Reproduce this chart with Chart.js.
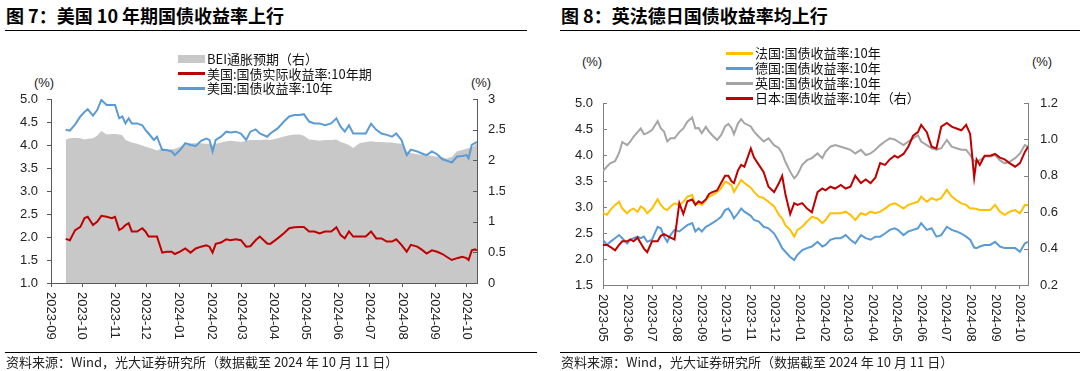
<!DOCTYPE html>
<html>
<head>
<meta charset="utf-8">
<script src="https://cdn.jsdelivr.net/npm/chart.js@4.4.1/dist/chart.umd.min.js"></script>
<style>
  body { margin: 0; background: #fff; font-family: "Noto Sans CJK SC", "Noto Sans", sans-serif; color: #000; }
  #wrap { position: relative; width: 1080px; height: 371px; overflow: hidden; background: #fff; }
  .titulo { position: absolute; top: 5px; font-size: 18px; font-weight: 700; line-height: 20px; white-space: nowrap; }
  .raya { position: absolute; height: 0; border-top: 1px solid #000; }
  .fuente { position: absolute; top: 354px; font-size: 13px; line-height: 16px; white-space: nowrap; color: #222; }
  .unidad { position: absolute; font-family: "Liberation Sans", sans-serif; font-size: 13px; line-height: 14px; transform: translateX(-50%); color: #222; }
  .ley { position: absolute; font-size: 13px; line-height: 16px; white-space: nowrap; color: #111; }
  .sim { position: absolute; }
  canvas { position: absolute; }
</style>
</head>
<body>
<div id="wrap">
  <div class="titulo" style="left:6px">图 7：美国 10 年期国债收益率上行</div>
  <div class="raya" style="left:5px;width:522px;top:30px"></div>
  <div class="titulo" style="left:561px">图 8：英法德日国债收益率均上行</div>
  <div class="raya" style="left:560px;width:520px;top:30px"></div>

  <div class="unidad" style="left:44px;top:76px">(%)</div>
  <div class="unidad" style="left:481px;top:76px">(%)</div>
  <div class="unidad" style="left:592px;top:55px">(%)</div>
  <div class="unidad" style="left:1042px;top:55px">(%)</div>

  <canvas id="graficoUS" width="505" height="270" style="left:0;top:90px;width:505px;height:270px"></canvas>
  <canvas id="graficoEU" width="522" height="270" style="left:540px;top:90px;width:522px;height:270px"></canvas>

  <div class="raya" style="left:5px;width:532px;top:352px"></div>
  <div class="raya" style="left:560px;width:520px;top:352px"></div>
  <div class="fuente" style="left:6px">资料来源：Wind，光大证券研究所（数据截至 2024 年 10 月 11 日）</div>
  <div class="fuente" style="left:561px">资料来源：Wind，光大证券研究所（数据截至 2024 年 10 月 11 日）</div>
</div>
<script>
// ---- DATOS: grafico 7 (EEUU) ----
var mesesUS = ['2023-09','2023-10','2023-11','2023-12','2024-01','2024-02','2024-03','2024-04','2024-05','2024-06','2024-07','2024-08','2024-09','2024-10'];
var fechasUS = ['2023-09-15','2023-09-19','2023-09-24','2023-09-29','2023-10-03','2023-10-06','2023-10-11','2023-10-15','2023-10-19','2023-10-24',
  '2023-10-29','2023-11-01','2023-11-05','2023-11-08','2023-11-11','2023-11-14','2023-11-17','2023-11-22','2023-11-27','2023-11-30',
  '2023-12-03','2023-12-08','2023-12-11','2023-12-16','2023-12-20','2023-12-25','2023-12-28','2024-01-02','2024-01-07','2024-01-12',
  '2024-01-17','2024-01-22','2024-01-27','2024-01-30','2024-02-02','2024-02-05','2024-02-10','2024-02-15','2024-02-19','2024-02-24',
  '2024-02-29','2024-03-05','2024-03-09','2024-03-14','2024-03-18','2024-03-25',
  '2024-03-28','2024-04-04','2024-04-10','2024-04-15','2024-04-20','2024-04-25','2024-04-29','2024-05-04','2024-05-09','2024-05-14',
  '2024-05-19','2024-05-25','2024-05-30','2024-06-03','2024-06-07','2024-06-11','2024-06-15','2024-06-21','2024-06-27','2024-07-02',
  '2024-07-07','2024-07-12','2024-07-17','2024-07-22','2024-07-26','2024-07-31','2024-08-05','2024-08-09','2024-08-15','2024-08-19',
  '2024-08-24','2024-08-29','2024-09-03','2024-09-08','2024-09-12','2024-09-17','2024-09-22','2024-09-27','2024-10-01','2024-10-03',
  '2024-10-06','2024-10-09','2024-10-11'];
var nominalUS = [4.33,4.31,4.45,4.62,4.72,4.78,4.64,4.76,4.98,4.87, 4.87,4.87,4.58,4.62,4.47,4.58,4.47,4.47,4.43,4.33,
  4.25,4.11,4.18,3.89,3.89,3.86,3.78,3.89,4.04,4.00, 3.98,4.09,4.14,4.11,3.86,4.11,4.18,4.29,4.27,4.29,
  4.25,4.11,4.29,4.34,4.25,4.18,
  4.25,4.36,4.51,4.62,4.65,4.65,4.67,4.51,4.47,4.47, 4.43,4.47,4.58,4.40,4.29,4.43,4.25,4.25,4.25,4.46,
  4.33,4.25,4.22,4.18,4.25,4.11,3.78,3.90,3.86,3.82, 3.78,3.86,3.80,3.69,3.66,3.62,3.75,3.76,3.78,3.71,
  4.00,4.04,4.07];
var realUS = [1.96,1.93,2.15,2.22,2.41,2.44,2.26,2.33,2.46,2.44, 2.41,2.44,2.15,2.19,2.26,2.30,2.12,2.12,2.19,2.12,
  2.01,2.01,2.01,1.66,1.68,1.68,1.63,1.68,1.75,1.66, 1.75,1.79,1.82,1.79,1.66,1.85,1.88,1.95,1.93,1.95,
  1.93,1.79,1.80,1.93,2.01,1.86,
  1.85,1.97,2.08,2.19,2.21,2.22,2.22,2.12,2.12,2.08, 2.12,2.12,2.21,2.04,1.97,2.12,2.01,2.01,2.01,2.12,
  1.97,1.97,1.90,1.90,1.95,1.83,1.68,1.83,1.79,1.73, 1.64,1.71,1.68,1.63,1.57,1.50,1.54,1.57,1.54,1.50,
  1.71,1.73,1.71];
var beiUS = [2.34,2.36,2.37,2.36,2.34,2.35,2.36,2.40,2.48,2.42, 2.43,2.43,2.42,2.41,2.33,2.31,2.29,2.27,2.24,2.22,
  2.21,2.18,2.16,2.20,2.18,2.18,2.19,2.22,2.27,2.28, 2.28,2.28,2.27,2.27,2.25,2.27,2.29,2.31,2.32,2.31,
  2.30,2.32,2.33,2.33,2.33,2.34,
  2.33,2.36,2.39,2.41,2.42,2.42,2.40,2.34,2.33,2.32, 2.33,2.33,2.34,2.30,2.28,2.25,2.20,2.28,2.30,2.31,
  2.30,2.30,2.29,2.29,2.28,2.27,2.15,2.12,2.10,2.09, 2.09,2.07,2.06,2.05,2.03,2.06,2.15,2.17,2.19,2.20,
  2.21,2.25,2.28];

// ---- DATOS: grafico 8 (Europa y Japon) ----
var mesesEU = ['2023-05','2023-06','2023-07','2023-08','2023-09','2023-10','2023-11','2023-12','2024-01','2024-02','2024-03','2024-04','2024-05','2024-06','2024-07','2024-08','2024-09','2024-10'];
var fechasEU = ['2023-05-01','2023-05-06','2023-05-10','2023-05-16','2023-05-21','2023-05-25','2023-05-31','2023-06-04','2023-06-08','2023-06-13',
  '2023-06-17','2023-06-21','2023-06-25','2023-07-01','2023-07-08','2023-07-12','2023-07-16','2023-07-20','2023-07-24','2023-07-29',
  '2023-08-04','2023-08-09','2023-08-14','2023-08-20','2023-08-24','2023-08-28','2023-09-01','2023-09-06','2023-09-10','2023-09-14',
  '2023-09-20','2023-09-25','2023-09-30','2023-10-04','2023-10-08','2023-10-11','2023-10-16','2023-10-20',
  '2023-10-24','2023-11-01','2023-11-05','2023-11-11','2023-11-17','2023-11-23','2023-11-30','2023-12-06','2023-12-10','2023-12-14',
  '2023-12-20','2023-12-25','2023-12-29','2024-01-04','2024-01-10','2024-01-16','2024-01-23','2024-01-29','2024-02-02','2024-02-08',
  '2024-02-14','2024-02-21','2024-02-27','2024-03-04','2024-03-10','2024-03-17','2024-03-23','2024-03-29','2024-04-04','2024-04-10',
  '2024-04-16','2024-04-22','2024-04-28','2024-05-02','2024-05-09','2024-05-15','2024-05-21','2024-05-27','2024-05-31','2024-06-07',
  '2024-06-13','2024-06-19','2024-06-25','2024-07-02','2024-07-08','2024-07-14','2024-07-20','2024-07-26','2024-07-31','2024-08-05',
  '2024-08-08','2024-08-12','2024-08-18','2024-08-25','2024-08-31','2024-09-06','2024-09-12','2024-09-18','2024-09-25','2024-10-01',
  '2024-10-07','2024-10-11'];
var francia = [2.88,2.85,2.94,3.04,3.10,2.97,2.88,2.94,2.97,2.91, 3.01,2.97,2.88,2.97,3.15,3.04,2.97,2.94,3.01,3.07,
  3.04,3.10,3.20,3.23,3.04,3.07,3.04,3.13,3.20,3.23, 3.29,3.36,3.49,3.46,3.42,3.29,3.42,3.52,
  3.46,3.37,3.29,3.20,3.17,3.10,3.01,2.85,2.78,2.65, 2.56,2.43,2.56,2.62,2.72,2.81,2.78,2.69,2.75,2.88,
  2.88,2.88,2.91,2.85,2.75,2.88,2.85,2.91,2.88,2.91,
  2.97,3.04,3.07,3.04,2.97,3.04,3.07,3.10,3.20,3.10, 3.17,3.13,3.17,3.33,3.20,3.13,3.07,3.04,2.97,2.97,
  2.96,2.94,2.94,2.94,3.04,2.91,2.85,2.91,2.94,2.88, 3.04,3.04];
var alemania = [2.37,2.27,2.33,2.40,2.46,2.40,2.30,2.37,2.40,2.43, 2.40,2.43,2.33,2.37,2.62,2.59,2.43,2.33,2.46,2.56,
  2.53,2.59,2.65,2.69,2.53,2.59,2.53,2.62,2.65,2.69, 2.75,2.81,2.94,2.97,2.88,2.78,2.88,2.97,
  2.91,2.83,2.75,2.72,2.62,2.59,2.49,2.33,2.21,2.14, 2.04,1.98,2.08,2.17,2.21,2.24,2.33,2.24,2.27,2.37,
  2.40,2.40,2.46,2.37,2.30,2.46,2.40,2.37,2.43,2.43,
  2.49,2.56,2.59,2.56,2.46,2.53,2.56,2.59,2.69,2.56, 2.59,2.43,2.46,2.62,2.56,2.53,2.49,2.43,2.37,2.22,
  2.21,2.24,2.27,2.27,2.33,2.24,2.21,2.21,2.21,2.14, 2.30,2.33];
var reinoUnido = [3.69,3.78,3.84,3.88,4.04,4.25,4.19,4.26,4.35,4.44, 4.51,4.40,4.42,4.48,4.65,4.51,4.45,4.26,4.32,4.32,
  4.44,4.51,4.64,4.72,4.51,4.52,4.42,4.54,4.45,4.38, 4.29,4.38,4.55,4.60,4.52,4.40,4.61,4.69,
  4.61,4.55,4.45,4.35,4.26,4.32,4.19,4.13,4.03,3.87, 3.68,3.55,3.62,3.81,3.90,3.94,4.03,3.94,4.06,4.16,
  4.19,4.16,4.13,4.10,4.03,4.10,4.00,4.03,4.10,4.19,
  4.26,4.32,4.30,4.26,4.19,4.26,4.32,4.38,4.26,4.19, 4.13,4.10,4.13,4.29,4.16,4.13,4.10,4.10,4.00,3.88,
  3.88,3.90,3.97,3.97,4.00,3.90,3.84,3.87,3.94,4.03, 4.19,4.16];
var japon = [0.42,0.42,0.41,0.39,0.42,0.44,0.44,0.45,0.44,0.46, 0.43,0.40,0.38,0.44,0.44,0.47,0.48,0.47,0.46,0.45,
  0.65,0.59,0.66,0.67,0.64,0.66,0.65,0.67,0.70,0.71, 0.72,0.76,0.80,0.80,0.77,0.76,0.83,0.86,
  0.85,0.95,0.90,0.86,0.82,0.74,0.71,0.76,0.80,0.70, 0.59,0.65,0.64,0.65,0.62,0.60,0.71,0.73,0.72,0.74,
  0.73,0.75,0.73,0.74,0.80,0.76,0.78,0.76,0.79,0.87,
  0.86,0.89,0.91,0.90,0.92,0.96,1.02,1.04,1.08,1.04, 0.96,0.95,1.07,1.09,1.07,1.06,1.05,1.08,1.03,0.79,
  0.89,0.86,0.91,0.91,0.92,0.90,0.89,0.87,0.85,0.87, 0.93,0.96];

// ---- HELPERS ----
function dia(s) {
  var p = s.split('-');
  return Date.UTC(+p[0], +p[1] - 1, +(p[2] || 1)) / 86400000;
}
function serie(fechas, valores) {
  return fechas.map(function (f, i) { return {x: dia(f), y: valores[i]}; });
}
var FUENTE = '"Liberation Sans", sans-serif';

// etiquetas del eje x giradas (de arriba a abajo) y marcas hacia dentro
var ejes = {
  id: 'ejes',
  afterDraw: function (chart, args, opts) {
    var ctx = chart.ctx, sx = chart.scales.x;
    ctx.save();
    ctx.font = '13px ' + FUENTE;
    ctx.fillStyle = '#222';
    ctx.textAlign = 'left';
    ctx.textBaseline = 'middle';
    sx.ticks.forEach(function (t, i) {
      ctx.save();
      ctx.translate(Math.round(sx.getPixelForValue(t.value)), sx.top + 9);
      ctx.rotate(Math.PI / 2);
      ctx.fillText(opts.labels[i], 0, 0);
      ctx.restore();
    });
    ctx.strokeStyle = opts.color;
    ctx.lineWidth = 1;
    opts.inner.forEach(function (id) {
      var s = chart.scales[id];
      var x0 = s.position === 'left' ? s.right : s.left;
      var dir = s.position === 'left' ? 1 : -1;
      s.ticks.forEach(function (t) {
        var y = Math.round(s.getPixelForValue(t.value)) + 0.5;
        ctx.beginPath();
        ctx.moveTo(x0, y);
        ctx.lineTo(x0 + dir * 4, y);
        ctx.stroke();
      });
    });
    ctx.restore();
  }
};

function escalaY(pos, min, max, paso, ancho, pad, color, fuera, dec) {
  return {
    type: 'linear', position: pos, min: min, max: max,
    afterFit: function (s) {
      s.width = ancho;
      // que la etiqueta superior no empuje el area del grafico
      s.paddingTop = 0;
      s.paddingBottom = 0;
    },
    border: {display: true, color: color},
    grid: {drawOnChartArea: false, drawTicks: fuera, tickLength: 4, color: color},
    ticks: {stepSize: paso, padding: pad, color: '#222', font: {family: FUENTE, size: 13},
      callback: function (v) { return dec ? v.toFixed(1) : String(Math.round(v * 10) / 10); }}
  };
}
function escalaX(meses, desde, hasta, color) {
  return {
    type: 'linear', min: dia(desde), max: dia(hasta),
    afterFit: function (s) { s.height = 60; },
    afterBuildTicks: function (s) {
      s.ticks = meses.map(function (m) { return {value: dia(m)}; });
    },
    border: {display: true, color: color},
    grid: {drawOnChartArea: false, tickLength: 4, color: color},
    ticks: {display: false}
  };
}

// leyenda en html a partir de los datasets
function leyenda(chart, x, y0, paso) {
  var wrap = document.getElementById('wrap');
  chart.data.datasets.forEach(function (ds, i) {
    var y = y0 + i * paso;
    var s = document.createElement('div');
    s.className = 'sim';
    var h = ds.fill ? 8 : 3;
    s.style.cssText = 'left:' + x + 'px;top:' + (y - h / 2) + 'px;width:27px;height:' + h + 'px;background:' +
      (ds.fill ? ds.backgroundColor : ds.borderColor);
    wrap.appendChild(s);
    var t = document.createElement('div');
    t.className = 'ley';
    t.style.left = (x + 29) + 'px';
    t.style.top = (y - 8) + 'px';
    t.textContent = ds.label;
    wrap.appendChild(t);
  });
}

// ---- GRAFICO 7 ----
var ejeUS = '#595959';
var graficoUS = new Chart(document.getElementById('graficoUS'), {
  type: 'line',
  data: {
    datasets: [
      {label: 'BEI通胀预期（右）', data: serie(fechasUS, beiUS), yAxisID: 'y1', fill: 'start',
        backgroundColor: '#C8C8C8', borderColor: '#C8C8C8', borderWidth: 0, pointRadius: 0, order: 3},
      {label: '美国:国债实际收益率:10年期', data: serie(fechasUS, realUS), yAxisID: 'y',
        borderColor: '#C00000', borderWidth: 2, pointRadius: 0, order: 2},
      {label: '美国:国债收益率:10年', data: serie(fechasUS, nominalUS), yAxisID: 'y',
        borderColor: '#5B9BD5', borderWidth: 2, pointRadius: 0, order: 1}
    ]
  },
  options: {
    responsive: false, animation: false,
    layout: {padding: {top: 9, right: 0, bottom: 17, left: 0}},
    plugins: {legend: {display: false}, tooltip: {enabled: false},
      ejes: {labels: mesesUS, inner: ['y1'], color: ejeUS}},
    elements: {line: {tension: 0}},
    scales: {
      x: escalaX(mesesUS, '2023-09-01', '2024-10-11', ejeUS),
      y: escalaY('left', 1, 5, 0.5, 51, 9, ejeUS, true, true),
      y1: escalaY('right', 0, 3, 0.5, 28, 11, ejeUS, false, false)
    }
  },
  plugins: [ejes]
});
leyenda(graficoUS, 178, 59, 14.5);

// ---- GRAFICO 8 ----
var ejeEU = '#808080';
var graficoEU = new Chart(document.getElementById('graficoEU'), {
  type: 'line',
  data: {
    datasets: [
      {label: '法国:国债收益率:10年', data: serie(fechasEU, francia), yAxisID: 'y',
        borderColor: '#FFC000', borderWidth: 2, pointRadius: 0, order: 4},
      {label: '德国:国债收益率:10年', data: serie(fechasEU, alemania), yAxisID: 'y',
        borderColor: '#5B9BD5', borderWidth: 2, pointRadius: 0, order: 3},
      {label: '英国:国债收益率:10年', data: serie(fechasEU, reinoUnido), yAxisID: 'y',
        borderColor: '#A5A5A5', borderWidth: 2, pointRadius: 0, order: 2},
      {label: '日本:国债收益率:10年（右）', data: serie(fechasEU, japon), yAxisID: 'y1',
        borderColor: '#C00000', borderWidth: 2, pointRadius: 0, order: 1}
    ]
  },
  options: {
    responsive: false, animation: false,
    layout: {padding: {top: 13, right: 0, bottom: 15, left: 0}},
    plugins: {legend: {display: false}, tooltip: {enabled: false},
      ejes: {labels: mesesEU, inner: ['y', 'y1'], color: ejeEU}},
    elements: {line: {tension: 0}},
    scales: {
      x: escalaX(mesesEU, '2023-05-01', '2024-10-11', ejeEU),
      y: escalaY('left', 1.5, 5, 0.5, 63, 10, ejeEU, false, true),
      y1: escalaY('right', 0.2, 1.2, 0.1, 34, 12, ejeEU, false, true)
    }
  },
  plugins: [ejes]
});
leyenda(graficoEU, 726, 53, 15);
</script>
</body>
</html>
